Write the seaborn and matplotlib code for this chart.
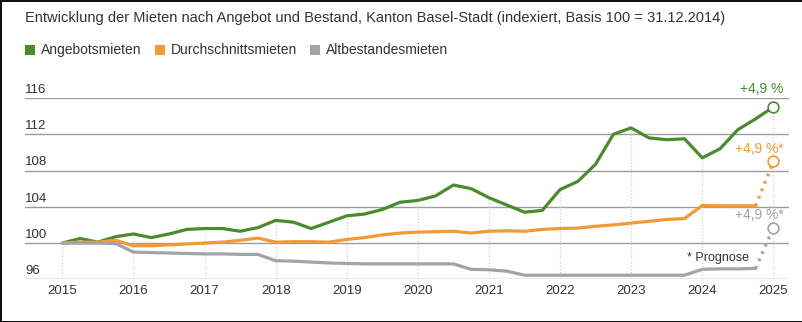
import numpy as np
import pandas as pd
import matplotlib
matplotlib.use("Agg")
import matplotlib.pyplot as plt
from matplotlib.patches import Rectangle
import matplotlib.transforms as mtransforms
import seaborn as sns

# ---------------- data ----------------
quarters = [2015 + 0.25 * i for i in range(40)]  # 2015.00 .. 2024.75
angebot = [100.0, 100.5, 100.1, 100.7, 101.0, 100.6, 101.0, 101.5,
           101.6, 101.6, 101.3, 101.7, 102.5, 102.3, 101.6, 102.3,
           103.0, 103.2, 103.7, 104.5, 104.7, 105.2, 106.4, 106.0,
           105.0, 104.2, 103.4, 103.6, 105.9, 106.8, 108.7, 112.0,
           112.7, 111.6, 111.4, 111.5, 109.4, 110.4, 112.5, 113.7]
angebot_end = 115.0
durchschnitt = [100.0, 100.1, 100.1, 100.3, 99.7, 99.7, 99.8, 99.9,
                100.0, 100.1, 100.3, 100.55, 100.1, 100.15, 100.15, 100.1,
                100.4, 100.6, 100.9, 101.1, 101.2, 101.25, 101.3, 101.1,
                101.3, 101.35, 101.3, 101.5, 101.6, 101.65, 101.85, 102.0,
                102.2, 102.4, 102.6, 102.7, 104.15, 104.1, 104.1, 104.1]
durchschnitt_prog = 109.0
altbestand = [100.0, 100.0, 100.0, 99.95, 99.0, 98.95, 98.9, 98.85,
              98.8, 98.8, 98.75, 98.75, 98.05, 98.0, 97.9, 97.8,
              97.75, 97.7, 97.7, 97.7, 97.7, 97.7, 97.7, 97.1,
              97.05, 96.9, 96.45, 96.45, 96.45, 96.45, 96.45, 96.45,
              96.45, 96.45, 96.45, 96.45, 97.1, 97.15, 97.15, 97.2]
altbestand_prog = 101.7
end_x = 2025.0

series_names = ["Angebotsmieten", "Durchschnittsmieten", "Altbestandesmieten"]
colors = ["#4a8b2c", "#f29a33", "#a0a3a8"]
years = [2015, 2016, 2017, 2018, 2019, 2020, 2021, 2022, 2023, 2024, 2025]
yticks = [96, 100, 104, 108, 112, 116]
labels_end = ["+4,9 %", "+4,9 %*", "+4,9 %*"]
title = "Entwicklung der Mieten nach Angebot und Bestand, Kanton Basel-Stadt (indexiert, Basis 100 = 31.12.2014)"
note = "* Prognose"

# ---------------- figure ----------------
sns.set_theme(style="white")
plt.rcParams["font.family"] = ["Liberation Sans", "DejaVu Sans"]

W, H = 803, 322
fig = plt.figure(figsize=(W / 100, H / 100), dpi=100)
fig.patch.set_facecolor("white")
fig.patch.set_edgecolor("#111111")
fig.patch.set_linewidth(2.0)

px_left, px_right, px_top, px_bottom = 25, 789, 98, 279.3
ax = fig.add_axes([px_left / W, 1 - px_bottom / H,
                   (px_right - px_left) / W, (px_bottom - px_top) / H])
ax.set_xlim(2014.475, 2025.22)
ax.set_ylim(96, 116)
for s in ax.spines.values():
    s.set_visible(False)

# horizontal gridlines
for v in yticks:
    ax.axhline(v, color="#8f8f8f" if v == 96 else "#9c9c9c", lw=1.0, zorder=1)

# vertical dotted year lines up to the green line
green_full = angebot + [angebot_end]
x_full = quarters + [end_x]
green_at_year = [green_full[x_full.index(float(y))] for y in years]
ax.vlines(years, 96, green_at_year, colors="#d2d2d2", linestyles=(0, (1, 1.5)), lw=0.9, zorder=1)

# lines via seaborn
df = pd.concat([
    pd.DataFrame({"x": x_full, "value": green_full, "series": series_names[0]}),
    pd.DataFrame({"x": quarters, "value": durchschnitt, "series": series_names[1]}),
    pd.DataFrame({"x": quarters, "value": altbestand, "series": series_names[2]}),
])
pal = dict(zip(series_names, colors))
sns.lineplot(data=df, x="x", y="value", hue="series", palette=pal, lw=2.3,
             legend=False, ax=ax, zorder=3)

# forecast dotted segments
df_prog = pd.concat([
    pd.DataFrame({"x": [quarters[-1], end_x], "value": [durchschnitt[-1], durchschnitt_prog], "series": series_names[1]}),
    pd.DataFrame({"x": [quarters[-1], end_x], "value": [altbestand[-1], altbestand_prog], "series": series_names[2]}),
])
sns.lineplot(data=df_prog, x="x", y="value", hue="series", palette=pal, lw=2.4,
             linestyle=(0, (0.8, 1.6)), legend=False, ax=ax, zorder=3)

# end circles
ends = [angebot_end, durchschnitt_prog, altbestand_prog]
for v, c in zip(ends, colors):
    ax.scatter([end_x], [v], s=60, facecolor="white", edgecolor=c, lw=1.2, zorder=5, clip_on=False)

# end labels (offsets in points)
offs = [12.7, 8.8, 9.0]
for v, c, t, o in zip(ends, colors, labels_end, offs):
    ax.annotate(t, (end_x, v), xytext=(7.5, o), textcoords="offset points",
                ha="right", va="center", color=c, fontsize=10, annotation_clip=False)

ax.text(2024.66, 98.37, note, ha="right", va="center", fontsize=9, color="#333333")

# ticks
ax.set_xticks(years)
ax.set_xticklabels([str(y) for y in years], fontsize=9.5, color="#333333")
ax.tick_params(axis="x", length=0, pad=4)
ax.set_yticks([])
ax.set_xlabel("")
ax.set_ylabel("")
trans = mtransforms.blended_transform_factory(ax.transAxes, ax.transData)
for v in yticks:
    ax.annotate(str(v), (0, v), xycoords=trans, xytext=(0, 1.5), textcoords="offset points",
                ha="left", va="bottom", fontsize=9.5, color="#333333", annotation_clip=False)

# title
fig.text(25 / W, 1 - 18 / H, title, ha="left", va="center", fontsize=10.5, color="#333333")

# legend
leg_x = [25, 155, 310]
for lx, name, c in zip(leg_x, series_names, colors):
    fig.patches.append(Rectangle((lx / W, 1 - 55 / H), 10 / W, 10 / H,
                                 transform=fig.transFigure, facecolor=c, edgecolor="none"))
    fig.text((lx + 16) / W, 1 - 50 / H, name, ha="left", va="center", fontsize=10, color="#333333")

fig.savefig("out.png", dpi=100, facecolor=fig.get_facecolor(), edgecolor=fig.get_edgecolor())
